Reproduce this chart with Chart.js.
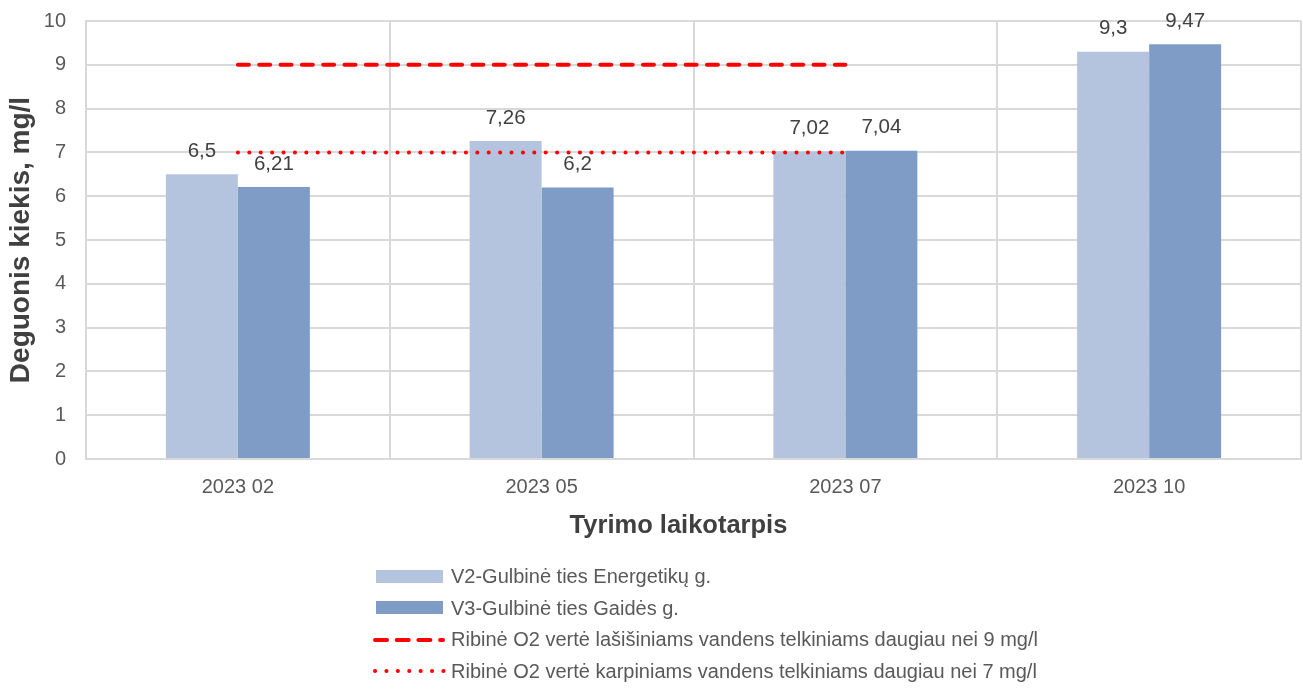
<!DOCTYPE html>
<html>
<head>
<meta charset="utf-8">
<script src="https://cdn.jsdelivr.net/npm/chart.js@4"></script>
<style>
  body { margin: 0; background: #fff; }
  #wrap { position: relative; width: 1303px; height: 689px; }
  #legend { position: absolute; left: 372px; top: 561px; font-family: "Liberation Sans", Arial, sans-serif; font-size: 20px; color: #595959; }
  #legend div { display: flex; align-items: center; height: 31.5px; }
  #legend svg { margin-right: 5px; }
</style>
</head>
<body>
<div id="wrap">
  <canvas id="chart" width="1303" height="689"></canvas>
  <div id="legend"></div>
</div>
<script>
const categories = ['2023 02', '2023 05', '2023 07', '2023 10'];
const v2Values = [6.5, 7.26, 7.02, 9.3];
const v3Values = [6.21, 6.2, 7.04, 9.47];
const salmonLimit = [9, 9, 9, null];
const carpLimit = [7, 7, 7, null];
const seriesNames = [
    'V2-Gulbinė ties Energetikų g.',
    'V3-Gulbinė ties Gaidės g.',
    'Ribinė O2 vertė lašišiniams vandens telkiniams daugiau nei 9 mg/l',
    'Ribinė O2 vertė karpiniams vandens telkiniams daugiau nei 7 mg/l'
];
const xTitle = 'Tyrimo laikotarpis';
const yTitle = 'Deguonis kiekis, mg/l';
const yMin = 0, yMax = 10, yStep = 1;

const FONT = '"Liberation Sans", Arial, sans-serif';

// value labels above bars (comma decimals) + x axis title centred on the whole chart
const barLabels = {
    id: 'barLabels',
    afterDatasetsDraw(chart) {
        const ctx = chart.ctx;
        ctx.save();
        ctx.font = '20.5px ' + FONT;
        ctx.fillStyle = '#404040';
        ctx.textAlign = 'center';
        ctx.textBaseline = 'middle';
        chart.data.datasets.forEach((ds, i) => {
            if (ds.type !== 'bar') return;
            chart.getDatasetMeta(i).data.forEach((bar, j) => {
                ctx.fillText(String(ds.data[j]).replace('.', ','), bar.x, bar.y - 23);
            });
        });
        ctx.font = 'bold 25.5px ' + FONT;
        ctx.fillText(xTitle, chart.width / 2 + 27, chart.chartArea.bottom + 67);
        ctx.restore();
    }
};

new Chart(document.getElementById('chart'), {
    data: {
        labels: categories,
        datasets: [
            { type: 'line', label: seriesNames[2], data: salmonLimit, borderColor: '#ff0000', borderWidth: 4,
              borderDash: [11, 10.32], borderCapStyle: 'round', pointRadius: 0, order: 0 },
            { type: 'line', label: seriesNames[3], data: carpLimit, borderColor: '#ff0000', borderWidth: 4,
              borderDash: [0.1, 11.3], borderCapStyle: 'round', pointRadius: 0, order: 0 },
            { type: 'bar', label: seriesNames[0], data: v2Values, backgroundColor: '#b4c4de', order: 1 },
            { type: 'bar', label: seriesNames[1], data: v3Values, backgroundColor: '#7f9cc7', order: 1 }
        ]
    },
    options: {
        responsive: false,
        animation: false,
        datasets: { bar: { categoryPercentage: 0.474, barPercentage: 1 } },
        layout: { padding: { left: 0, right: 2, top: 21, bottom: 145 } },
        plugins: { legend: { display: false }, tooltip: { enabled: false } },
        scales: {
            x: {
                grid: { color: '#d9d9d9', lineWidth: 2, drawTicks: false, offset: true },
                border: { color: '#d9d9d9', width: 2 },
                ticks: { color: '#595959', font: { family: FONT, size: 20 }, padding: 16 },
                afterFit(scale) { scale.height = 85; }
            },
            y: {
                min: yMin, max: yMax,
                grid: { color: '#d9d9d9', lineWidth: 2, drawTicks: false },
                border: { color: '#d9d9d9', width: 2 },
                ticks: { stepSize: yStep, color: '#595959', font: { family: FONT, size: 20 }, padding: 20 },
                title: { display: true, text: yTitle, color: '#404040',
                         font: { family: FONT, size: 28, weight: 'bold' }, padding: { top: 4, bottom: 4 } },
                afterFit(scale) {
                    scale.width = 86;
                    scale.paddingTop = 0;
                    scale.paddingBottom = 0;
                }
            }
        }
    },
    plugins: [barLabels]
});

// legend below the chart, one entry per row
const swatches = [
    '<svg width="74" height="14"><rect x="4" width="67" height="13" fill="#b4c4de"/></svg>',
    '<svg width="74" height="14"><rect x="4" width="67" height="13" fill="#7f9cc7"/></svg>',
    '<svg width="74" height="14"><line x1="3" y1="7" x2="71" y2="7" stroke="#ff0000" stroke-width="4" stroke-linecap="round" stroke-dasharray="12 9.7"/></svg>',
    '<svg width="74" height="14"><line x1="3" y1="7" x2="73" y2="7" stroke="#ff0000" stroke-width="4" stroke-linecap="round" stroke-dasharray="0.1 11.3"/></svg>'
];
document.getElementById('legend').innerHTML = seriesNames
    .map((name, i) => `<div>${swatches[i]}<span>${name}</span></div>`)
    .join('');
</script>
</body>
</html>
